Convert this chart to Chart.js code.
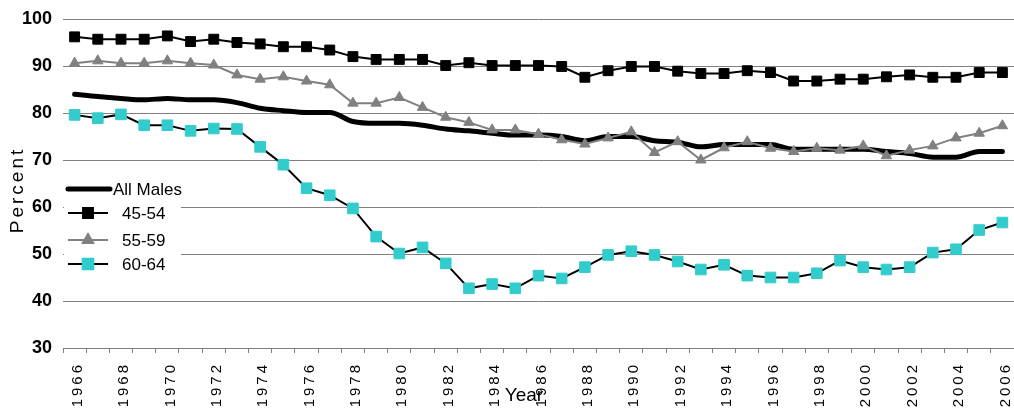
<!DOCTYPE html>
<html>
<head>
<meta charset="utf-8">
<script src="https://cdn.jsdelivr.net/npm/chart.js@4.4.1/dist/chart.umd.min.js"></script>
<style>
  html,body{margin:0;padding:0;background:#fff;}
  #wrap{width:1014px;height:415px;position:relative;}
</style>
</head>
<body>
<div id="wrap"><canvas id="lfpr"></canvas></div>
<script>
const years = ['1966','1967','1968','1969','1970','1971','1972','1973','1974','1975','1976','1977','1978','1979','1980','1981','1982','1983','1984','1985','1986','1987','1988','1989','1990','1991','1992','1993','1994','1995','1996','1997','1998','1999','2000','2001','2002','2003','2004','2005','2006'];

const allMales = [84.0,83.5,83.1,82.8,83.1,82.8,82.8,82.2,81.0,80.5,80.1,80.1,78.2,77.8,77.8,77.4,76.6,76.2,75.7,75.3,75.3,75.0,74.1,75.0,75.0,74.1,73.8,72.8,73.3,73.3,73.3,72.3,72.3,72.3,72.3,71.8,71.4,70.6,70.6,71.8,71.8];
const m4554 = [96.2,95.7,95.7,95.7,96.4,95.2,95.7,95.0,94.7,94.1,94.1,93.4,92.0,91.4,91.4,91.4,90.1,90.7,90.1,90.1,90.1,89.9,87.6,89.0,89.9,89.9,88.9,88.4,88.4,89.0,88.6,86.8,86.8,87.2,87.2,87.7,88.1,87.6,87.6,88.6,88.6];
const m5559 = [90.6,91.1,90.6,90.6,91.1,90.6,90.2,88.1,87.2,87.7,86.8,86.0,82.1,82.1,83.3,81.2,79.1,78.0,76.4,76.4,75.5,74.3,73.4,74.7,76.0,71.6,73.9,70.0,72.6,73.9,72.5,71.8,72.5,72.1,73.0,70.9,72.1,73.0,74.7,75.7,77.3];
const m6064 = [79.6,78.9,79.7,77.4,77.4,76.2,76.7,76.6,72.8,69.0,64.0,62.5,59.7,53.7,50.1,51.4,48.0,42.7,43.6,42.7,45.4,44.8,47.2,49.8,50.6,49.8,48.4,46.7,47.7,45.4,45.0,45.0,45.9,48.6,47.2,46.7,47.2,50.3,51.0,55.1,56.7];

const yTicks = [30,40,50,60,70,80,90,100];
const seriesNames = ['All Males','45-54','55-59','60-64'];

const FONT = "'Liberation Sans',Arial,sans-serif";
const GRID = '#808080';
const CYAN = '#33CCCC';

// plot runs to the right edge of the canvas like the original
const stretch = {
  id:'stretch',
  afterLayout(chart){
    const s = chart.scales.x, a = chart.chartArea;
    s.right = chart.width; s.width = s.right - s.left; s.configure();
    a.right = chart.width; a.width = a.right - a.left;
  }
};

// letter spacing for x labels only (y labels drawn later, z:1)
const spacing = {
  id:'spacing',
  beforeDraw(chart){ chart.ctx.letterSpacing = '3px'; },
  beforeDatasetsDraw(chart){ chart.ctx.letterSpacing = '0px'; }
};

// legend box inside the plot + axis titles
const extras = {
  id:'extras',
  afterDraw(chart){
    const ctx = chart.ctx;
    ctx.save();
    ctx.fillStyle = '#fff';
    ctx.fillRect(64, 172, 117, 102);
    const rows = [189, 213, 240, 264];
    const order = [3, 2, 0, 1]; // dataset index for each legend row
    ctx.font = '17px ' + FONT;
    ctx.textBaseline = 'middle';
    rows.forEach((y, i)=>{
      const ds = chart.data.datasets[order[i]];
      ctx.strokeStyle = ds.borderColor;
      ctx.lineWidth = ds.borderWidth;
      ctx.lineCap = i===0 ? 'round' : 'butt';
      ctx.beginPath();
      ctx.moveTo(68, y);
      ctx.lineTo(i===0?110:108, y);
      ctx.stroke();
      if(i>0){
        ctx.fillStyle = ds.pointBackgroundColor;
        ctx.strokeStyle = ds.pointBorderColor;
        Chart.helpers.drawPoint(ctx, {pointStyle: ds.pointStyle, radius: ds.pointRadius, rotation:0, borderWidth: ds.pointBorderWidth}, 88, y);
      }
      ctx.fillStyle = '#000';
      ctx.textAlign = 'left';
      ctx.fillText(seriesNames[i], i===0?113:122, y+1);
    });
    // y title
    ctx.save();
    ctx.translate(18, 190);
    ctx.rotate(-Math.PI/2);
    ctx.letterSpacing = '3px';
    ctx.font = '19px ' + FONT;
    ctx.textAlign = 'center';
    ctx.fillStyle = '#000';
    ctx.fillText('Percent', 0, 0);
    ctx.restore();
    // x title
    ctx.font = '19px ' + FONT;
    ctx.textAlign = 'center';
    ctx.fillStyle = '#000';
    ctx.fillText('Year', 524, 396);
    ctx.restore();
  }
};

new Chart(document.getElementById('lfpr'), {
  type:'line',
  data:{
    labels: years,
    datasets:[
      { label:'55-59', data:m5559, order:1, borderColor:'#808080', borderWidth:2,
        pointStyle:'triangle', pointRadius:6, pointBackgroundColor:'#808080', pointBorderColor:'#808080', pointBorderWidth:1, tension:0 },
      { label:'60-64', data:m6064, order:2, borderColor:'#000', borderWidth:2,
        pointStyle:'rect', pointRadius:7.5, pointBackgroundColor:CYAN, pointBorderColor:CYAN, pointBorderWidth:1, tension:0 },
      { label:'45-54', data:m4554, order:3, borderColor:'#000', borderWidth:2,
        pointStyle:'rect', pointRadius:7, pointBackgroundColor:'#000', pointBorderColor:'#000', pointBorderWidth:1, tension:0 },
      { label:'All Males', data:allMales, order:4, borderColor:'#000', borderWidth:5,
        pointRadius:0, cubicInterpolationMode:'monotone', borderCapStyle:'round', borderJoinStyle:'round' }
    ]
  },
  options:{
    responsive:true,
    maintainAspectRatio:false,
    animation:false,
    layout:{ padding:{ top:19, right:0, bottom:0, left:0 } },
    plugins:{ legend:{display:false}, tooltip:{enabled:false} },
    scales:{
      x:{
        offset:true,
        afterFit:(s)=>{ s.height = 67; },
        grid:{ offset:true, drawOnChartArea:false, drawTicks:true, tickLength:5, color:GRID },
        border:{ display:true, color:GRID, width:1 },
        ticks:{
          autoSkip:false, minRotation:90, maxRotation:90, padding:9, labelOffset:3, color:'#000',
          font:{ family:FONT, size:15 },
          callback:(v,i)=> i%2===0 ? years[i] : ''
        }
      },
      y:{
        min:30, max:100,
        afterFit:(s)=>{ s.width = 63; s.paddingTop = 0; s.paddingBottom = 0; },
        afterBuildTicks:(s)=>{ s.ticks = yTicks.map(v=>({value:v})); },
        grid:{ color:GRID, drawTicks:false },
        border:{ display:false },
        ticks:{ z:1, padding:11, color:'#000', font:{ family:FONT, size:18, weight:'bold' } }
      }
    }
  },
  plugins:[stretch, spacing, extras]
});
</script>
</body>
</html>
